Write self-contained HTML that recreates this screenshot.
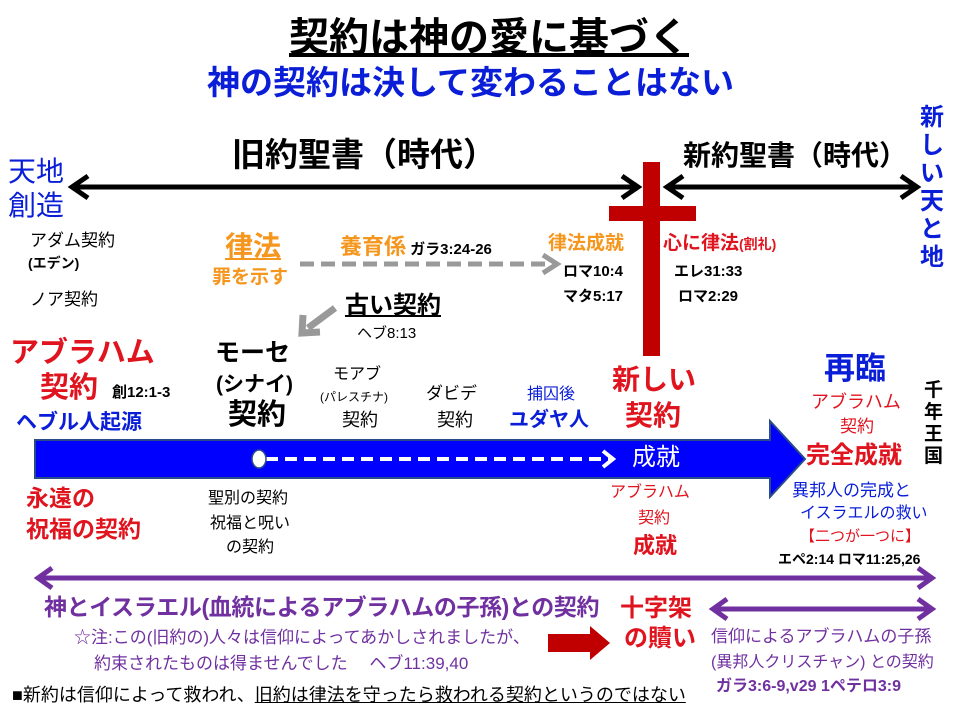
<!DOCTYPE html>
<html><head><meta charset="utf-8"><style>
body{margin:0;width:960px;height:720px;background:#fff;position:relative;overflow:hidden;font-family:"Liberation Sans","Noto Sans CJK JP",sans-serif;}
.t{position:absolute;white-space:nowrap;line-height:1;}
.b{font-weight:bold;}
.r{color:#e0141e}.bl{color:#0a1ed8}.o{color:#f5961e}.p{color:#7030a0}
</style></head><body>
<svg width="960" height="720" style="position:absolute;left:0;top:0">
<line x1="72" y1="187" x2="636" y2="187" stroke="#000" stroke-width="5"/>
<polyline points="88,176 72,187 88,198" fill="none" stroke="#000" stroke-width="5"/>
<polyline points="622,176 638,187 622,198" fill="none" stroke="#000" stroke-width="5"/>
<line x1="667" y1="187" x2="915" y2="187" stroke="#000" stroke-width="5"/>
<polyline points="683,176 667,187 683,198" fill="none" stroke="#000" stroke-width="5"/>
<polyline points="901,176 917,187 901,198" fill="none" stroke="#000" stroke-width="5"/>
<rect x="643" y="162" width="17" height="194" fill="#c00000"/>
<rect x="609" y="206" width="87" height="15" fill="#c00000"/>
<line x1="300" y1="264" x2="545" y2="264" stroke="#999" stroke-width="5" stroke-dasharray="14,7"/>
<polyline points="543,255 557,264 543,273" fill="none" stroke="#999" stroke-width="5"/>
<line x1="335" y1="308" x2="308" y2="328" stroke="#999" stroke-width="7"/>
<polyline points="303,315 302,333 320,332" fill="none" stroke="#999" stroke-width="7"/>
<polygon points="35,440 770,440 770,421 805,459 770,497 770,478 35,478" fill="#0000ff" stroke="#2a4b8a" stroke-width="2"/>
<line x1="266" y1="459" x2="610" y2="459" stroke="#fff" stroke-width="4" stroke-dasharray="12,7"/>
<polyline points="603,451 613,459 603,467" fill="none" stroke="#fff" stroke-width="4"/>
<ellipse cx="259" cy="459" rx="7" ry="9" fill="#fff" stroke="#2a4b8a" stroke-width="1.5"/>
<line x1="38" y1="578" x2="932" y2="578" stroke="#7030a0" stroke-width="5"/>
<polyline points="52,568 38,578 52,588" fill="none" stroke="#7030a0" stroke-width="5"/>
<polyline points="918,568 932,578 918,588" fill="none" stroke="#7030a0" stroke-width="5"/>
<line x1="713" y1="609" x2="932" y2="609" stroke="#7030a0" stroke-width="5"/>
<polyline points="727,599 713,609 727,619" fill="none" stroke="#7030a0" stroke-width="5"/>
<polyline points="918,599 932,609 918,619" fill="none" stroke="#7030a0" stroke-width="5"/>
<polygon points="548,634 590,634 590,626 610,643 590,660 590,652 548,652" fill="#c00000"/>
</svg>

<div class="t b" style="left:289px;top:18px;font-size:40px;text-decoration:underline;">契約は神の愛に基づく</div>
<div class="t b bl" style="left:207px;top:66px;font-size:33px;">神の契約は決して変わることはない</div>

<div class="t bl" style="left:8px;top:155px;font-size:28px;line-height:34px;">天地<br>創造</div>
<div class="t b" style="left:232px;top:138px;font-size:33px;">旧約聖書（時代）</div>
<div class="t b" style="left:683px;top:142px;font-size:28px;">新約聖書（時代）</div>
<div class="t b bl" style="left:920px;top:104px;font-size:24px;line-height:28px;width:26px;white-space:normal;">新しい天と地</div>

<div class="t" style="left:30px;top:232px;font-size:17px;">アダム契約</div>
<div class="t b" style="left:28px;top:256px;font-size:14px;">(エデン)</div>
<div class="t" style="left:30px;top:291px;font-size:17px;">ノア契約</div>

<div class="t b o" style="left:225px;top:233px;font-size:28px;text-decoration:underline;">律法</div>
<div class="t b o" style="left:212px;top:268px;font-size:19px;">罪を示す</div>
<div class="t b o" style="left:340px;top:236px;font-size:22px;">養育係<span style="color:#000;font-size:15px;"> ガラ3:24-26</span></div>
<div class="t b o" style="left:548px;top:234px;font-size:19px;">律法成就</div>
<div class="t b r" style="left:663px;top:234px;font-size:19px;">心に律法<span style="font-size:14px">(割礼)</span></div>
<div class="t b" style="left:563px;top:264px;font-size:15px;">ロマ10:4</div>
<div class="t b" style="left:563px;top:289px;font-size:15px;">マタ5:17</div>
<div class="t b" style="left:674px;top:264px;font-size:15px;">エレ31:33</div>
<div class="t b" style="left:678px;top:289px;font-size:15px;">ロマ2:29</div>

<div class="t b" style="left:345px;top:294px;font-size:24px;text-decoration:underline;">古い契約</div>
<div class="t" style="left:357px;top:326px;font-size:15px;">ヘブ8:13</div>

<div class="t b r" style="left:10px;top:339px;font-size:29px;">アブラハム</div>
<div class="t b r" style="left:40px;top:374px;font-size:29px;">契約</div>
<div class="t b" style="left:112px;top:385px;font-size:15px;">創12:1-3</div>
<div class="t b bl" style="left:16px;top:412px;font-size:21px;">ヘブル人起源</div>

<div class="t b" style="left:215px;top:341px;font-size:25px;">モーセ</div>
<div class="t b" style="left:216px;top:374px;font-size:21px;">(シナイ)</div>
<div class="t b" style="left:228px;top:401px;font-size:29px;">契約</div>
<div class="t" style="left:333px;top:367px;font-size:16px;">モアブ</div>
<div class="t" style="left:320px;top:391px;font-size:12px;">(パレスチナ)</div>
<div class="t" style="left:342px;top:411px;font-size:18px;">契約</div>
<div class="t" style="left:426px;top:385px;font-size:17px;">ダビデ</div>
<div class="t" style="left:437px;top:411px;font-size:18px;">契約</div>
<div class="t bl" style="left:527px;top:387px;font-size:16px;">捕囚後</div>
<div class="t b bl" style="left:509px;top:410px;font-size:20px;">ユダヤ人</div>
<div class="t b r" style="left:612px;top:366px;font-size:28px;">新しい</div>
<div class="t b r" style="left:625px;top:402px;font-size:28px;">契約</div>
<div class="t" style="left:632px;top:446px;font-size:24px;color:#fff;">成就</div>

<div class="t b bl" style="left:824px;top:353px;font-size:31px;">再臨</div>
<div class="t r" style="left:811px;top:393px;font-size:18px;">アブラハム</div>
<div class="t r" style="left:840px;top:418px;font-size:17px;">契約</div>
<div class="t b r" style="left:806px;top:444px;font-size:24px;">完全成就</div>
<div class="t b" style="left:924px;top:380px;font-size:19px;line-height:22px;width:20px;white-space:normal;">千年王国</div>
<div class="t bl" style="left:792px;top:482px;font-size:17px;">異邦人の完成と</div>
<div class="t bl" style="left:800px;top:506px;font-size:16px;">イスラエルの救い</div>
<div class="t r" style="left:800px;top:529px;font-size:15px;">【二つが一つに】</div>
<div class="t b" style="left:778px;top:552px;font-size:14px;">エペ2:14 ロマ11:25,26</div>

<div class="t b r" style="left:26px;top:487px;font-size:23px;">永遠の</div>
<div class="t b r" style="left:26px;top:518px;font-size:23px;">祝福の契約</div>
<div class="t" style="left:208px;top:491px;font-size:16px;">聖別の契約</div>
<div class="t" style="left:210px;top:516px;font-size:16px;">祝福と呪い</div>
<div class="t" style="left:226px;top:540px;font-size:16px;">の契約</div>
<div class="t r" style="left:610px;top:485px;font-size:16px;">アブラハム</div>
<div class="t r" style="left:638px;top:511px;font-size:16px;">契約</div>
<div class="t b r" style="left:633px;top:535px;font-size:22px;">成就</div>

<div class="t b p" style="left:44px;top:596px;font-size:23px;letter-spacing:-0.4px;">神とイスラエル(血統によるアブラハムの子孫)との契約</div>
<div class="t b r" style="left:620px;top:597px;font-size:24px;">十字架</div>
<div class="t b r" style="left:624px;top:627px;font-size:24px;">の贖い</div>
<div class="t p" style="left:74px;top:629px;font-size:17px;">☆注:この(旧約の)人々は信仰によってあかしされましたが、</div>
<div class="t p" style="left:94px;top:655px;font-size:17px;">約束されたものは得ませんでした　 ヘブ11:39,40</div>
<div class="t p" style="left:711px;top:628px;font-size:17px;">信仰によるアブラハムの子孫</div>
<div class="t p" style="left:711px;top:655px;font-size:16px;">(異邦人クリスチャン) との契約</div>
<div class="t b p" style="left:716px;top:679px;font-size:16px;">ガラ3:6-9,v29 1ペテロ3:9</div>
<div class="t" style="left:12px;top:686px;font-size:18px;">■新約は信仰によって救われ、<span style="text-decoration:underline">旧約は律法を守ったら救われる契約というのではない</span></div>
</body></html>
